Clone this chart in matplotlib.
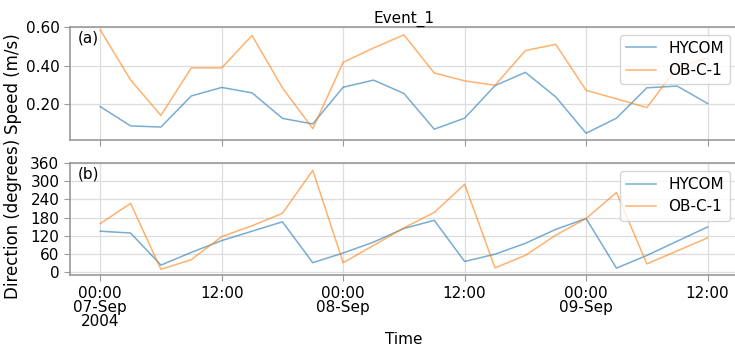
#!/usr/bin/env python3
import pandas as pd
import matplotlib
matplotlib.use("Agg")
import matplotlib.pyplot as plt
import matplotlib.dates as mdates

# 3-hourly samples, 07-Sep 00:00 to 09-Sep 12:00
times = pd.date_range("2004-09-07 00:00", periods=21, freq="3h")

hycom_speed = [0.188, 0.088, 0.082, 0.243, 0.287, 0.259, 0.127, 0.098,
               0.288, 0.325, 0.256, 0.071, 0.128, 0.296, 0.365, 0.238,
               0.050, 0.128, 0.285, 0.294, 0.204]
obs_speed = [0.585, 0.326, 0.142, 0.388, 0.388, 0.556, 0.285, 0.074,
             0.417, 0.491, 0.559, 0.362, 0.321, 0.298, 0.478, 0.510,
             0.272, 0.228, 0.183, 0.390, 0.440]

hycom_dir = [135, 129, 23, 65, 104, 135, 166, 31,
             63, 99, 144, 171, 35, 59, 95, 141,
             177, 13, 55, 102, 149]
obs_dir = [160, 227, 9, 41, 117, 153, 194, 336,
           31, 88, 146, 197, 290, 14, 55, 122,
           177, 263, 27, 70, 113]

tick_times = pd.date_range("2004-09-07 00:00", periods=6, freq="12h")
tick_labels = ["00:00\n07-Sep\n2004", "12:00", "00:00\n08-Sep", "12:00",
               "00:00\n09-Sep", "12:00"]

plt.rcParams["font.family"] = "DejaVu Sans"
FS = 11

fig = plt.figure(figsize=(7.35, 3.5), dpi=100)
ax1 = fig.add_axes([0.095, 0.600, 0.909, 0.323])
ax2 = fig.add_axes([0.095, 0.214, 0.909, 0.320], sharex=ax1)

for ax, h, o, tag in [(ax1, hycom_speed, obs_speed, "(a)"),
                      (ax2, hycom_dir, obs_dir, "(b)")]:
    ax.plot(times, h, color="C0", alpha=0.6, lw=1.1, label="HYCOM")
    ax.plot(times, o, color="C1", alpha=0.6, lw=1.1, label="OB-C-1")
    ax.grid(True, color="#dddddd", lw=0.9)
    ax.set_axisbelow(True)
    for s in ax.spines.values():
        s.set_color("#999999")
        s.set_linewidth(1.2)
    ax.tick_params(color="#999999", length=4, labelsize=FS)
    ax.text(0.012, 0.97, tag, transform=ax.transAxes, va="top", fontsize=FS)
    ax.legend(loc="upper right", fontsize=FS)

ax1.set_ylim(0.015, 0.60)
ax1.set_yticks([0.20, 0.40, 0.60])
ax1.yaxis.set_major_formatter(plt.FormatStrFormatter("%.2f"))
ax1.set_ylabel("Speed (m/s)", fontsize=12)
ax1.set_title("Event_1", fontsize=FS, pad=3)
ax1.tick_params(labelbottom=False)

ax2.set_ylim(-10, 360)
ax2.set_yticks(range(0, 361, 60))
ax2.set_ylabel("Direction (degrees)", fontsize=12)
ax2.set_xticks(mdates.date2num(tick_times))
ax2.set_xticklabels(tick_labels, linespacing=0.95)
ax2.set_xlabel("Time", fontsize=FS, labelpad=2)

for ax in (ax1, ax2):
    ax.yaxis.set_label_coords(-0.071, 0.5)

fig.savefig("out.png", dpi=100)
